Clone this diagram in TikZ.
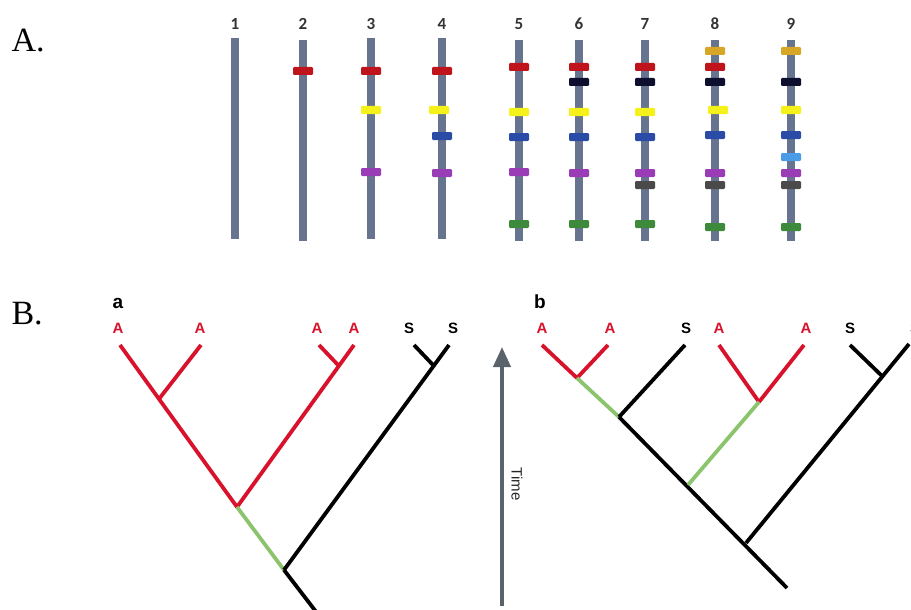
\documentclass[tikz,border=0pt]{standalone}
\usepackage{fontspec}
\setmainfont{Liberation Serif}
\newfontfamily\labfont{Liberation Sans}
\newfontfamily\numfont{Carlito}
\usetikzlibrary{arrows.meta}
\definecolor{chrom}{HTML}{67748F}
\definecolor{bred}{HTML}{C0141C}
\definecolor{byel}{HTML}{F4F21A}
\definecolor{bblu}{HTML}{2A4CA6}
\definecolor{bpur}{HTML}{9A3CB6}
\definecolor{bgrn}{HTML}{3E8A3C}
\definecolor{bnav}{HTML}{0E0E2E}
\definecolor{bgry}{HTML}{4A4A4A}
\definecolor{bgol}{HTML}{D8A626}
\definecolor{blbl}{HTML}{4C9BE6}
\definecolor{tred}{HTML}{D9122B}
\definecolor{tgrn}{HTML}{8CC46E}
\definecolor{arrowgray}{HTML}{5A626C}
\begin{document}
\begin{tikzpicture}[x=1pt,y=-1pt,
  chromo/.style={draw=chrom,line width=8pt},
  numlab/.style={font=\numfont\bfseries\fontsize{17}{17}\selectfont,text=black!80},
  panellab/.style={font=\fontsize{34}{34}\selectfont,anchor=west},
  tiplab/.style={font=\labfont\bfseries\fontsize{15}{15}\selectfont},
  redbr/.style={draw=tred,line width=3.8pt},
  grnbr/.style={draw=tgrn,line width=3.8pt},
  blkbr/.style={draw=black,line width=3.8pt},
  sublab/.style={font=\labfont\bfseries\fontsize{19}{19}\selectfont}]
\useasboundingbox (0,0) rectangle (911,610);

% panel labels
\node[panellab] (pA) at (8,41) {A.};
\node[panellab] (pB) at (8,314) {B.};

% chromosomes
\foreach \i/\x/\t/\b in {1/235/38/239,2/303/40/241,3/371/38/239,4/442/38/239,5/519/40/241,6/579/40/241,7/645/40/241,8/715/40/241,9/791/40/241}{
  \draw[chromo] (\x,\t) -- (\x,\b);
  \node[numlab] (num\i) at (\x,24) {\i};
}
% bands
\foreach \x/\y/\c in {
  303/71/bred,
  371/71/bred, 371/110/byel, 371/172/bpur,
  442/71/bred, 439/110/byel, 442/136/bblu, 442/173/bpur,
  519/67/bred, 519/112/byel, 519/137/bblu, 519/172/bpur, 519/224/bgrn,
  579/67/bred, 579/82/bnav, 579/112/byel, 579/137/bblu, 579/173/bpur, 579/224/bgrn,
  645/67/bred, 645/82/bnav, 645/112/byel, 645/137/bblu, 645/173/bpur, 645/185/bgry, 645/224/bgrn,
  715/51/bgol, 715/67/bred, 715/82/bnav, 718/110/byel, 715/135/bblu, 715/173/bpur, 715/185/bgry, 715/227/bgrn,
  791/51/bgol, 791/82/bnav, 791/110/byel, 791/135/bblu, 791/157/blbl, 791/173/bpur, 791/185/bgry, 791/227/bgrn}{
  \fill[\c,rounded corners=1.2pt] (\x-10,\y-4) rectangle (\x+10,\y+4);
}

% ---------- tree a ----------
\node[sublab] (la) at (118,303) {a};
\coordinate (a1) at (120,345);
\coordinate (a2) at (201,345);
\coordinate (a3) at (319,345);
\coordinate (a4) at (354,345);
\coordinate (s1) at (414,345);
\coordinate (s2) at (449,345);
\coordinate (n1) at (159,399);
\coordinate (n2) at (339,366);
\coordinate (n3) at (237,507);
\coordinate (n4) at (284,570);
\coordinate (n5) at (434,366);
\coordinate (ra) at (317,613);
\node[tiplab,text=tred] (ta1) at (118,328) {A};
\node[tiplab,text=tred] (ta2) at (200,328) {A};
\node[tiplab,text=tred] (ta3) at (317,328) {A};
\node[tiplab,text=tred] (ta4) at (354,328) {A};
\node[tiplab] (ta5) at (409,328) {S};
\node[tiplab] (ta6) at (453,328) {S};
\draw[redbr] (a1) -- (n3);
\draw[redbr] (a2) -- (n1);
\draw[redbr] (a4) -- (n3);
\draw[redbr] (a3) -- (n2);
\draw[grnbr] (n3) -- (n4);
\draw[blkbr] (s2) -- (n4);
\draw[blkbr] (s1) -- (n5);
\draw[blkbr] (n4) -- (ra);

% ---------- time arrow ----------
\coordinate (tb) at (502,606);
\coordinate (tt) at (502,347);
\draw[arrowgray,line width=4pt,-{Triangle[length=20pt,width=17pt]}] (tb) -- (tt);
\node[font=\labfont\fontsize{15}{15}\selectfont,rotate=-90,text=black!85] (time) at (517,484) {Time};

% ---------- tree b ----------
\node[sublab] (lb) at (540,302) {b};
\coordinate (b1) at (542,345);
\coordinate (b2) at (608,345);
\coordinate (bs1) at (685,345);
\coordinate (r1) at (719,345);
\coordinate (r2) at (804,345);
\coordinate (bs2) at (850,345);
\coordinate (bs3) at (909,344);
\coordinate (m1) at (577,378);
\coordinate (m2) at (619,417);
\coordinate (m3) at (688,485);
\coordinate (m4) at (746,543);
\coordinate (m5) at (759,402);
\coordinate (m6) at (882,376);
\coordinate (rb) at (787,588);
\draw[redbr] (b1) -- (m1);
\draw[redbr] (b2) -- (m1);
\draw[grnbr] (m1) -- (m2);
\draw[blkbr] (bs1) -- (m2);
\draw[blkbr] (m2) -- (rb);
\draw[redbr] (r1) -- (m5);
\draw[redbr] (r2) -- (m5);
\draw[grnbr] (m5) -- (m3);
\draw[blkbr] (bs3) -- (m4);
\draw[blkbr] (bs2) -- (m6);

\node[tiplab,text=tred] (tb1) at (542,328) {A};
\node[tiplab,text=tred] (tb2) at (610,328) {A};
\node[tiplab] (tb3) at (686,328) {S};
\node[tiplab,text=tred] (tb4) at (719,328) {A};
\node[tiplab,text=tred] (tb5) at (806,328) {A};
\node[tiplab] (tb6) at (850,328) {S};
\node[tiplab] (tb7) at (915,328) {S};
\end{tikzpicture}
\end{document}
